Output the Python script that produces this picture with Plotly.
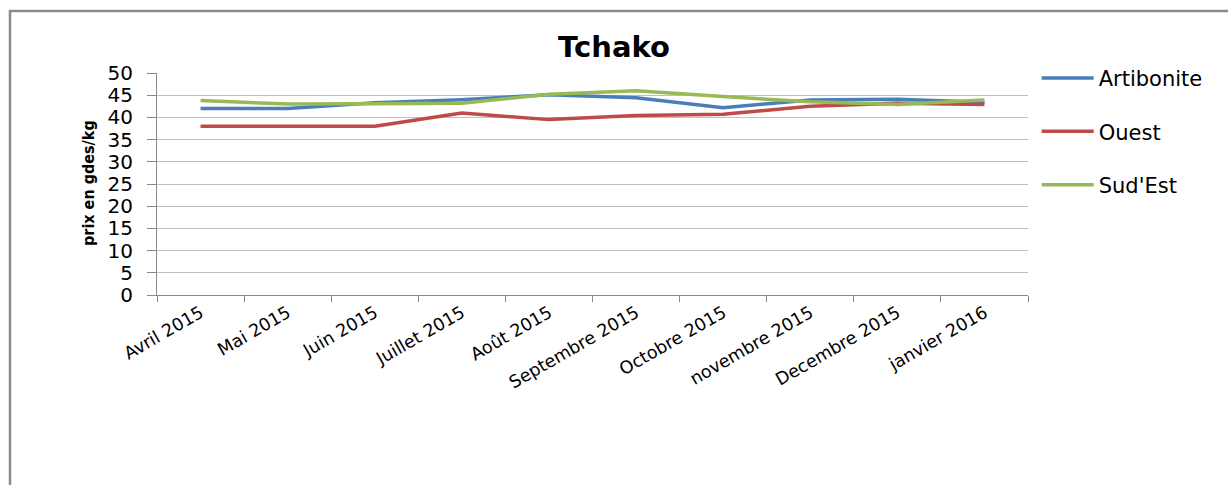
import plotly.graph_objects as go

months = ["Avril 2015", "Mai 2015", "Juin 2015", "Juillet 2015", "Août 2015",
          "Septembre 2015", "Octobre 2015", "novembre 2015", "Decembre 2015", "janvier 2016"]
artibonite = [42.0, 42.0, 43.3, 44.0, 45.1, 44.4, 42.2, 43.9, 44.1, 43.4]
ouest = [38.0, 38.0, 38.0, 41.0, 39.5, 40.4, 40.7, 42.5, 43.2, 42.9]
sud_est = [43.8, 43.0, 43.1, 43.2, 45.2, 46.0, 44.7, 43.5, 42.9, 43.9]
y_ticks = list(range(0, 55, 5))

series = [("Artibonite", artibonite, "#4A7EBB"),
          ("Ouest", ouest, "#BE4B48"),
          ("Sud'Est", sud_est, "#98B954")]

fig = go.Figure()
for i, (name, vals, col) in enumerate(series):
    fig.add_trace(go.Scatter(x=months, y=vals, name=name, mode="lines",
                             line=dict(color=col, width=3.5), legendgroup=str(i)))

fig.update_layout(
    width=1228, height=485,
    margin=dict(l=157, r=200, t=73, b=190),
    paper_bgcolor="white", plot_bgcolor="white",
    title=dict(text="<b>Tchako</b>", x=0.5, xref="container", xanchor="center",
               y=1 - 47 / 485, yref="container", yanchor="middle",
               font=dict(family="DejaVu Sans", size=29, color="black")),
    font=dict(family="DejaVu Sans", color="black"),
    legend=dict(x=1.01, y=1.068, xanchor="left", yanchor="top",
                font=dict(family="DejaVu Sans", size=21, color="black"),
                itemwidth=52, tracegroupgap=23, bgcolor="rgba(0,0,0,0)"),
    showlegend=True,
)
fig.update_xaxes(type="category", tickson="boundaries", ticks="outside", ticklen=6,
                 range=[-0.5, len(months) - 0.5],
                 tickcolor="#888888", showline=True, linecolor="#888888", linewidth=1,
                 showgrid=False, tickangle=-30,
                 tickfont=dict(family="DejaVu Sans", size=17.5, color="black"))
fig.update_yaxes(range=[0, 50], tickvals=y_ticks, ticks="outside", ticklen=9,
                 tickcolor="#888888", showline=True, linecolor="#888888", linewidth=1,
                 showgrid=True, gridcolor="#BFBFBF", gridwidth=1, zeroline=False,
                 ticklabelstandoff=10,
                 tickfont=dict(family="DejaVu Sans", size=20, color="black"))

fig.add_annotation(text="<b>prix en gdes/kg</b>", textangle=-90, xref="paper", yref="paper",
                   x=(88 - 157) / 871, y=(295 - 183) / 222, showarrow=False,
                   xanchor="center", yanchor="middle",
                   font=dict(family="Liberation Sans Narrow, DejaVu Sans Condensed", size=16, color="black"))

# chart frame (top and left borders visible)
fig.add_shape(type="rect", xref="paper", yref="paper",
              x0=(10 - 157) / 871, x1=(1260 - 157) / 871,
              y0=(295 - 520) / 222, y1=(295 - 11) / 222,
              line=dict(color="#8C8C8C", width=2.5), fillcolor="rgba(0,0,0,0)", layer="below")

fig.write_html("out.html")
